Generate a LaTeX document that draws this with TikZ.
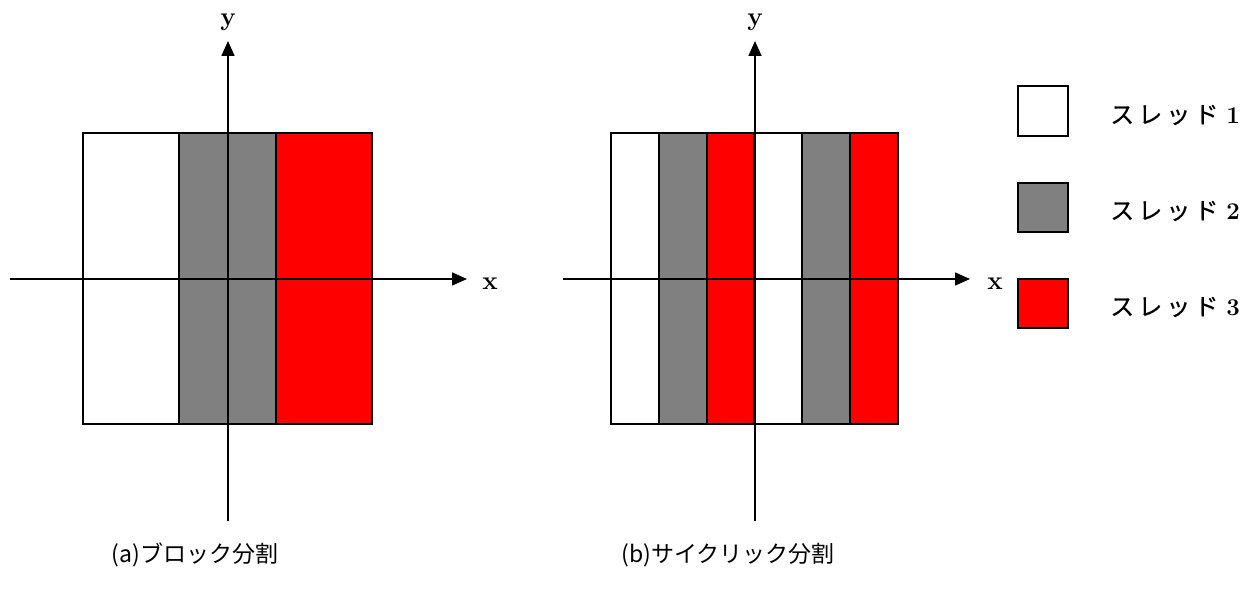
\documentclass[tikz,border=0pt]{standalone}
\usepackage{fontspec}
\newfontfamily\jp{Noto Sans CJK JP}
\newfontfamily\jpl[LetterSpace=17,FakeBold=0.4]{Noto Sans CJK JP}
\usetikzlibrary{arrows.meta}
\definecolor{stgray}{RGB}{128,128,128}
\definecolor{stred}{RGB}{255,0,0}
\tikzset{
  stripe/.style={draw=black, line width=2pt, inner sep=0pt, outer sep=0pt, minimum height=291pt},
  axis/.style={line width=1.6pt, -{Triangle[length=15pt,width=13pt]}},
  axlabel/.style={font=\bfseries\fontsize{26}{26}\selectfont, inner sep=0pt},
  legbox/.style={draw=black, line width=2pt, inner sep=0pt, minimum width=50pt, minimum height=49pt},
  legtext/.style={anchor=west, inner sep=0pt, font=\fontsize{24}{24}\selectfont},
  caption/.style={inner sep=0pt, font=\jp\fontsize{23}{23}\selectfont}
}
\begin{document}
\begin{tikzpicture}[x=1pt,y=-1pt]
\useasboundingbox (0,0) rectangle (1243,594);
% (a) block
\node[stripe, fill=white, minimum width=96.3pt] (a1) at (131.2,278.5) {};
\node[stripe, fill=stgray, minimum width=96.3pt] (a2) at (227.5,278.5) {};
\node[stripe, fill=stred, minimum width=96.3pt] (a3) at (323.8,278.5) {};
\coordinate (axl) at (10,279);
\coordinate (axr) at (467,279);
\coordinate (ayb) at (228,521);
\coordinate (ayt) at (228,41);
\draw[axis] (axl) -- (axr);
\draw[axis] (ayb) -- (ayt);
\node[axlabel] (alx) at (490,284) {x};
\node[axlabel] (aly) at (228,22) {y};
\node[caption] (capa) at (195,555) {(a)ブロック分割};
% (b) cyclic
\node[stripe, fill=white, minimum width=47.8pt] (b1) at (634.9,278.5) {};
\node[stripe, fill=stgray, minimum width=47.8pt] (b2) at (682.7,278.5) {};
\node[stripe, fill=stred, minimum width=47.8pt] (b3) at (730.5,278.5) {};
\node[stripe, fill=white, minimum width=47.8pt] (b4) at (778.3,278.5) {};
\node[stripe, fill=stgray, minimum width=47.8pt] (b5) at (826.1,278.5) {};
\node[stripe, fill=stred, minimum width=47.8pt] (b6) at (873.9,278.5) {};
\coordinate (bxl) at (563,279);
\coordinate (bxr) at (970,279);
\coordinate (byb) at (755,521);
\coordinate (byt) at (755,41);
\draw[axis] (bxl) -- (bxr);
\draw[axis] (byb) -- (byt);
\node[axlabel] (blx) at (995,284) {x};
\node[axlabel] (bly) at (755,22) {y};
\node[caption] (capb) at (728,555) {(b)サイクリック分割};
% legend
\node[legbox, fill=white] (l1) at (1043,111) {};
\node[legbox, fill=stgray] (l2) at (1043,207) {};
\node[legbox, fill=stred] (l3) at (1043,303) {};
\node[legtext] (t1) at (1110,115) {{\jpl スレッド}\kern8pt\textbf{1}};
\node[legtext] (t2) at (1110,211) {{\jpl スレッド}\kern8pt\textbf{2}};
\node[legtext] (t3) at (1110,307) {{\jpl スレッド}\kern8pt\textbf{3}};
\end{tikzpicture}
\end{document}
